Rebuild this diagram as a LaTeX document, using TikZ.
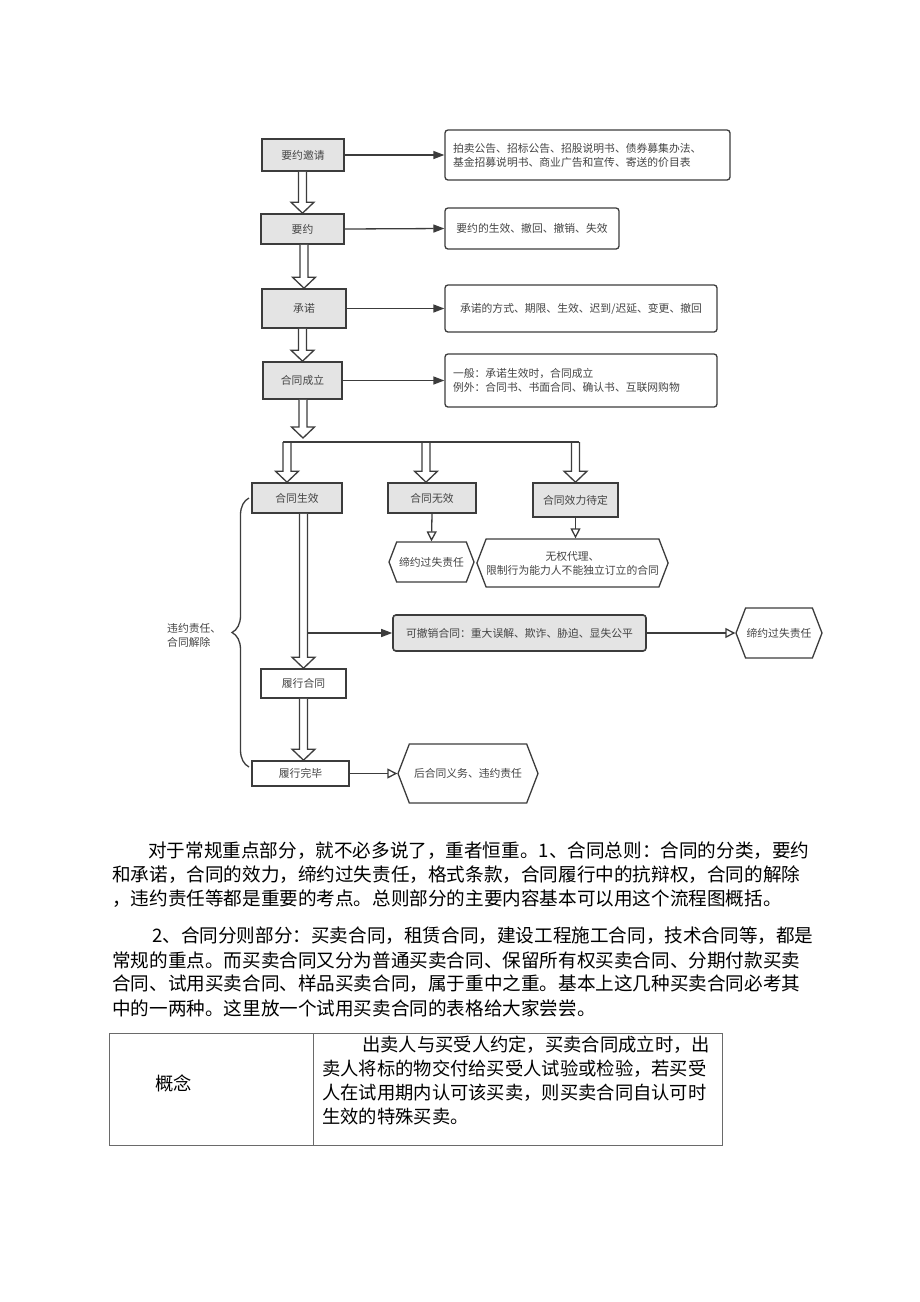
\documentclass[tikz,border=0pt]{standalone}
\usepackage{fontspec}
\setmainfont{Noto Sans CJK SC}
\usetikzlibrary{arrows.meta,calc,shapes.symbols,decorations.pathreplacing}

\definecolor{boxgray}{HTML}{E4E4E4}
\definecolor{edgegray}{HTML}{3C3C3C}
\definecolor{txtgray}{HTML}{444444}
\definecolor{rulegray}{HTML}{6A6A6A}

\tikzset{
	every node/.style={font=\fontsize{10.8}{14}\selectfont, text=txtgray},
	stage/.style={draw=edgegray, line width=1.6pt, fill=boxgray, inner sep=0pt},
	plainstage/.style={stage, fill=white},
	note/.style={draw=edgegray, line width=1.3pt, rounded corners=3pt, fill=white, inner sep=0pt},
	result/.style={draw=edgegray, line width=1.3pt, fill=white, shape=signal, signal to=east and west, signal pointer angle=138, inner sep=0pt},
	link/.style={draw=edgegray, line width=1.3pt},
	arr/.style={link, -{Triangle[length=11pt,width=8pt]}},
	openarr/.style={link, -{Triangle[open,length=10pt,width=10pt]}},
	fat/.style={link, fill=white, line join=miter},
	body/.style={font=\fontsize{18.6}{22}\selectfont, text=black, anchor=west, inner sep=0pt},
	cell/.style={font=\fontsize{18.3}{22}\selectfont, text=black, anchor=west, inner sep=0pt},
	tablerule/.style={draw=rulegray, line width=1pt}
}

\newcommand\fatarrow[2]{%
	\path[fat] let \p1=(#1), \p2=(#2) in
		(\x2-4pt,\y1) -- (\x2-4pt,\y2+11pt) -- (\x2-11.5pt,\y2+11pt) -- (\x2,\y2)
		-- (\x2+11.5pt,\y2+11pt) -- (\x2+4pt,\y2+11pt) -- (\x2+4pt,\y1);}

\begin{document}
\begin{tikzpicture}[x=1pt,y=-1pt]
	\fill[white] (0,0) rectangle (920,1302);
	\useasboundingbox (0,0) rectangle (920,1302);

	\node[stage, minimum width=82pt, minimum height=32pt] (invite) at (303,155) {要约邀请};
	\node[stage, minimum width=83pt, minimum height=30pt] (offer) at (302.5,229) {要约};
	\node[stage, minimum width=84pt, minimum height=39pt] (accept) at (304,308.5) {承诺};
	\node[stage, minimum width=79pt, minimum height=37pt] (formed) at (302.5,380.5) {合同成立};

	\node[note, minimum width=285pt, minimum height=50pt, text width=269pt, align=left] (invitenote) at (587.5,155) {拍卖公告、招标公告、招股说明书、债券募集办法、\\基金招募说明书、商业广告和宣传、寄送的价目表};
	\node[note, minimum width=174pt, minimum height=41pt] (offernote) at (532,228.5) {要约的生效、撤回、撤销、失效};
	\node[note, minimum width=272pt, minimum height=47pt] (acceptnote) at (581,308.5) {承诺的方式、期限、生效、迟到/迟延、变更、撤回};
	\node[note, minimum width=272pt, minimum height=53pt, text width=256pt, align=left] (formednote) at (581,380.5) {一般：承诺生效时，合同成立\\例外：合同书、书面合同、确认书、互联网购物};

	\node[stage, minimum width=90pt, minimum height=30pt] (valid) at (297,498) {合同生效};
	\node[stage, minimum width=88pt, minimum height=30pt] (void) at (432,498) {合同无效};
	\node[stage, minimum width=85pt, minimum height=34pt] (pending) at (575.5,500) {合同效力待定};

	\node[result, minimum width=85pt, minimum height=40pt] (voidres) at (431.5,562) {缔约过失责任};
	\node[result, minimum width=189pt, minimum height=48pt, align=center] (pendres) at (572.5,563) {无权代理、\\限制行为能力人不能独立订立的合同};
	\node[stage, rounded corners=3pt, minimum width=253pt, minimum height=36pt] (revoc) at (519.5,633) {可撤销合同：重大误解、欺诈、胁迫、显失公平};
	\node[result, minimum width=86pt, minimum height=50pt] (revocres) at (779,633) {缔约过失责任};
	\node[plainstage, minimum width=85pt, minimum height=29pt] (perform) at (303.5,683.5) {履行合同};
	\node[plainstage, minimum width=97pt, minimum height=25pt] (done) at (300.5,773.5) {履行完毕};
	\node[result, minimum width=140pt, minimum height=59pt] (after) at (468,773.5) {后合同义务、违约责任};
	\node[anchor=west, align=left, inner sep=0pt] (breach) at (167,635) {违约责任、\\合同解除};

	\path[arr] (invite.east) -- (invitenote.west);
	\path[arr] (offer.east) -- (offernote.west);
	\path[arr] (accept.east) -- (acceptnote.west);
	\path[arr] (formed.east) -- (formednote.west);

	\fatarrow{invite.south}{offer.north}
	\fatarrow{offer.south}{accept.north}
	\fatarrow{accept.south}{formed.north}

	\coordinate (split) at (303,442);
	\coordinate (splitL) at (283,442);
	\coordinate (splitR) at (579,442);
	\fatarrow{formed.south}{[yshift=4pt]split}
	\fatarrow{split}{[xshift=-10pt]valid.north}
	\fatarrow{split}{[xshift=-6pt]void.north}
	\fatarrow{split}{pending.north}
	\path[link] (splitL) -- (splitR);

	\path[openarr] (void.south) -- (voidres.north);
	\path[openarr] (pending.south) -- (pending.south |- pendres.north);

	\fatarrow{valid.south}{perform.north}
	\path[arr] ([xshift=4pt]perform.north |- revoc.west) -- (revoc.west);
	\path[openarr] (revoc.east) -- (revocres.west);
	\fatarrow{perform.south}{perform.south |- done.north}
	\path[openarr] (done.east) -- (after.west);

	\path[link, decorate, decoration={brace, amplitude=17pt}] (249,767) -- (249,498);

	\node[body] (parA1) at (148,851) {对于常规重点部分，就不必多说了，重者恒重。1、合同总则：合同的分类，要约};
	\node[body] (parA2) at (112,875) {和承诺，合同的效力，缔约过失责任，格式条款，合同履行中的抗辩权，合同的解除};
	\node[body] (parA3) at (112,899) {，违约责任等都是重要的考点。总则部分的主要内容基本可以用这个流程图概括。};
	\node[body] (parB1) at (152,936) {2、合同分则部分：买卖合同，租赁合同，建设工程施工合同，技术合同等，都是};
	\node[body] (parB2) at (112,960) {常规的重点。而买卖合同又分为普通买卖合同、保留所有权买卖合同、分期付款买卖};
	\node[body] (parB3) at (112,984) {合同、试用买卖合同、样品买卖合同，属于重中之重。基本上这几种买卖合同必考其};
	\node[body] (parB4) at (112,1008) {中的一两种。这里放一个试用买卖合同的表格给大家尝尝。};

	\path[tablerule] (109,1033) rectangle (722,1145);
	\path[tablerule] (313,1033) -- (313,1145);
	\node[cell] (term) at (155,1083) {概念};
	\node[cell] (def1) at (362,1045) {出卖人与买受人约定，买卖合同成立时，出};
	\node[cell] (def2) at (322,1069) {卖人将标的物交付给买受人试验或检验，若买受};
	\node[cell] (def3) at (322,1093) {人在试用期内认可该买卖，则买卖合同自认可时};
	\node[cell] (def4) at (322,1117) {生效的特殊买卖。};
\end{tikzpicture}
\end{document}
